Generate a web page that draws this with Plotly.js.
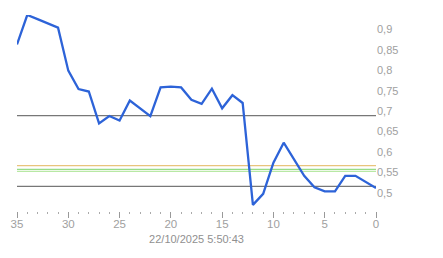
<!DOCTYPE html>
<html>
<head>
<meta charset="utf-8">
<script src="https://cdn.plot.ly/plotly-3.0.1.min.js"></script>
<style>html,body{margin:0;padding:0;background:#fff;}#chart{width:443px;height:258px;}</style>
</head>
<body>
<div id="chart"></div>
<script>
const xValues = [35,34,33,32,31,30,29,28,27,26,25,24,23,22,21,20,19,18,17,16,15,14,13,12,11,10,9,8,7,6,5,4,3,2,1,0];
const yValues = [0.863,0.935,0.925,0.915,0.904,0.799,0.754,0.748,0.670,0.688,0.677,0.726,0.707,0.688,0.758,0.760,0.758,0.728,0.718,0.755,0.707,0.739,0.720,0.471,0.498,0.574,0.623,0.583,0.542,0.514,0.504,0.504,0.542,0.542,0.526,0.512];
const refLevels = [0.689, 0.516, 0.567, 0.5575, 0.553];
const refColors = ['#777777', '#777777', '#e8c47c', '#98dc86', '#b8e8a4'];
const xTitle = '22/10/2025 5:50:43';

const traces = refLevels.map((v, i) => ({
  x: [35, 0], y: [v, v], mode: 'lines', type: 'scatter',
  line: {color: refColors[i], width: 1.3}, hoverinfo: 'skip'
}));
traces.push({
  x: xValues, y: yValues, mode: 'lines', type: 'scatter',
  line: {color: '#2d63d8', width: 2.3}
});

const layout = {
  width: 443, height: 258,
  margin: {l: 16.5, r: 67, t: 14.8, b: 46.5},
  showlegend: false,
  paper_bgcolor: '#ffffff', plot_bgcolor: '#ffffff',
  separators: ',.',
  font: {family: 'Liberation Sans, Arial, sans-serif', size: 11, color: '#a0a0a0'},
  xaxis: {
    range: [35, 0], showgrid: false, zeroline: false, showline: false,
    tickmode: 'linear', tick0: 0, dtick: 5,
    ticks: 'outside', ticklen: 6, tickcolor: '#999999', tickwidth: 1,
    ticklabelstandoff: -4,
    minor: {dtick: 1, ticks: 'outside', ticklen: 2, tickcolor: '#aaaaaa', tickwidth: 1},
    tickfont: {size: 11.5, color: '#a0a0a0'},
    title: {text: xTitle, font: {size: 11, color: '#909090'}, standoff: 6}
  },
  yaxis: {
    range: [0.456, 0.935], side: 'right', showgrid: false, zeroline: false, showline: false,
    tickmode: 'linear', tick0: 0.5, dtick: 0.05, ticks: '',
    tickfont: {size: 11, color: '#a0a0a0'}
  }
};
Plotly.newPlot('chart', traces, layout, {staticPlot: true, displayModeBar: false});
</script>
</body>
</html>
